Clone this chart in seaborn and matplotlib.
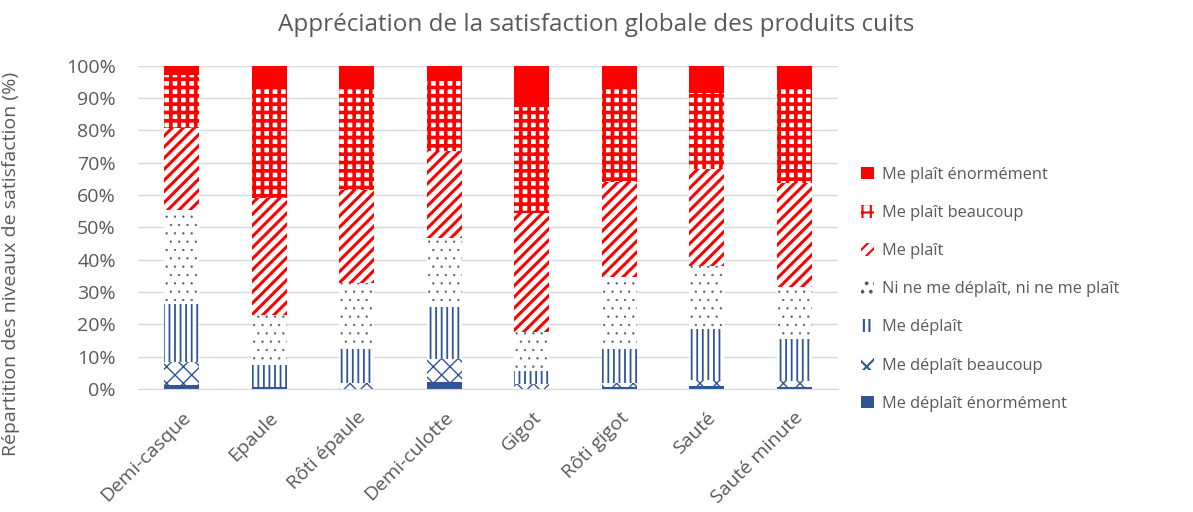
import matplotlib
matplotlib.use("Agg")
import matplotlib.pyplot as plt
import matplotlib.patches as mpatches
import numpy as np
import seaborn as sns

# Données (% par produit)
produits = ["Demi-casque", "Epaule", "Rôti épaule", "Demi-culotte",
            "Gigot", "Rôti gigot", "Sauté", "Sauté minute"]
niveaux = ["Me déplaît énormément", "Me déplaît beaucoup", "Me déplaît",
           "Ni ne me déplaît, ni ne me plaît", "Me plaît",
           "Me plaît beaucoup", "Me plaît énormément"]

deplait_enormement = [1.2, 0.7, 0.0, 2.1, 0.0, 0.6, 0.8, 0.6]
deplait_beaucoup = [7.3, 0.0, 1.8, 7.3, 1.5, 1.3, 2.1, 2.0]
deplait = [17.7, 6.7, 10.5, 16.1, 4.0, 10.5, 15.7, 13.0]
ni_ni = [29.2, 15.5, 20.6, 21.2, 12.1, 22.2, 19.6, 15.9]
plait = [25.4, 36.3, 28.6, 27.0, 36.8, 29.3, 29.8, 32.1]
plait_beaucoup = [16.3, 34.3, 31.7, 21.7, 32.9, 28.8, 23.5, 29.7]
plait_enormement = [2.9, 6.5, 6.8, 4.6, 12.7, 7.3, 8.5, 6.7]

series = [deplait_enormement, deplait_beaucoup, deplait, ni_ni,
          plait, plait_beaucoup, plait_enormement]

ROUGE = "#FF0000"
BLEU = "#2F5597"
GRIS = "#595959"

# (couleur de fond, couleur du motif, motif, épaisseur du motif)
styles = [
    (BLEU, BLEU, None, 1.0),
    ("white", BLEU, "xx", 1.0),
    ("white", BLEU, "|||", 1.3),
    ("white", "#595959", "..", 0.4),
    ("white", ROUGE, "///", 2.2),
    ("white", ROUGE, "++", 2.6),
    (ROUGE, ROUGE, None, 1.0),
]

sns.set_style("white")
plt.rcParams["font.family"] = ["Open Sans", "DejaVu Sans"]
plt.rcParams["hatch.linewidth"] = 1.5


def epaisseur_motif(patch, lw):
    if hasattr(patch, "set_hatch_linewidth"):
        patch.set_hatch_linewidth(lw)


fig = plt.figure(figsize=(11.93, 5.12), dpi=100)
ax = fig.add_axes([0.1157, 0.2402, 0.5867, 0.6315])

# empilement : on dessine les cumuls du plus haut au plus bas
cumul = np.cumsum(np.array(series), axis=0)
for i in range(len(series) - 1, -1, -1):
    face, edge, hatch, hlw = styles[i]
    n_avant = len(ax.patches)
    sns.barplot(x=produits, y=cumul[i], ax=ax, width=0.4,
                color=face, edgecolor=edge, hatch=hatch, linewidth=0,
                saturation=1)
    for p in ax.patches[n_avant:]:
        epaisseur_motif(p, hlw)

ax.set_ylim(0, 100)
ax.set_yticks(np.arange(0, 101, 10))
ax.set_yticklabels([f"{v}%" for v in range(0, 101, 10)])
ax.yaxis.grid(True, color="#D9D9D9", linewidth=1)
ax.set_axisbelow(True)
for s in ["top", "right", "left"]:
    ax.spines[s].set_visible(False)
ax.spines["bottom"].set_color("#D9D9D9")
ax.tick_params(axis="both", length=0, colors=GRIS, labelsize=14)
ax.tick_params(axis="y", pad=16)
ax.tick_params(axis="x", pad=14)
plt.setp(ax.get_xticklabels(), rotation=45, ha="right", rotation_mode="anchor")

ax.set_xlabel("")
ax.set_ylabel("Répartition des niveaux de satisfaction (%)", color=GRIS,
              fontsize=14)
ax.yaxis.set_label_coords(-0.168, 0.387)
fig.suptitle("Appréciation de la satisfaction globale des produits cuits",
             color=GRIS, fontsize=17.5, x=0.5, y=0.975)

handles = []
for i in range(len(series) - 1, -1, -1):
    face, edge, hatch, hlw = styles[i]
    h = mpatches.Patch(facecolor=face, edgecolor=edge, hatch=hatch,
                       linewidth=0, label=niveaux[i])
    epaisseur_motif(h, min(hlw, 2.0))
    handles.append(h)
fig.legend(handles=handles, loc="center left", bbox_to_anchor=(0.709, 0.435),
           frameon=False, fontsize=11.8, labelcolor=GRIS, handlelength=0.8,
           handleheight=0.8, handletextpad=0.5, labelspacing=1.35)

fig.savefig("out.png", dpi=100)
